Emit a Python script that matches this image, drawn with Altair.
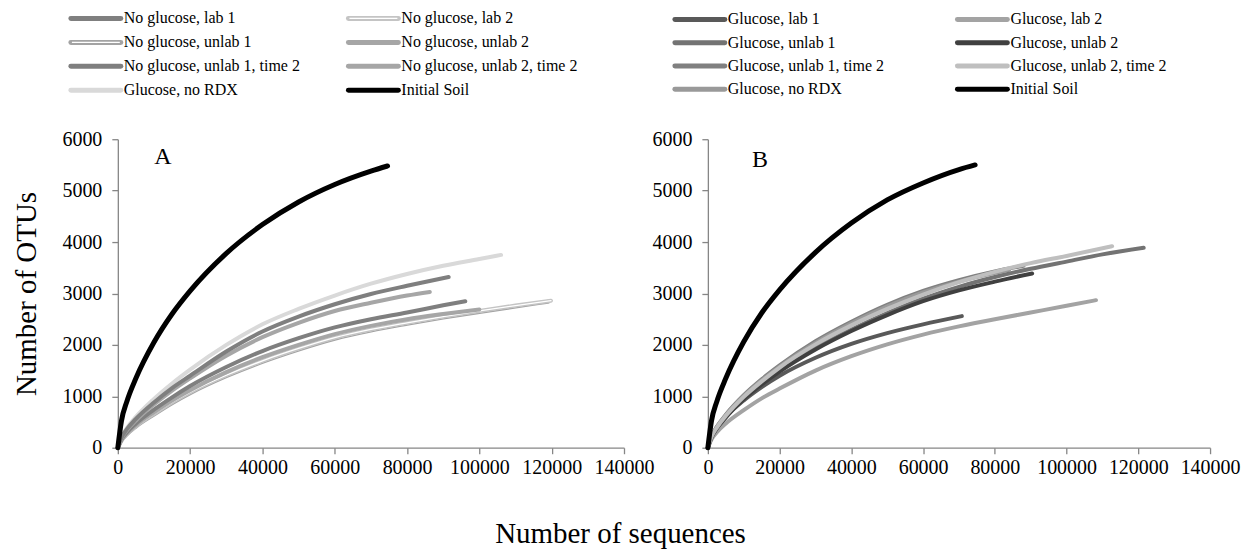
import altair as alt
import pandas as pd

FONT = "Liberation Serif"

# ---------------- Panel A (no glucose) ----------------
A_NAMES = ["No glucose, lab 1", "No glucose, lab 2", "No glucose, unlab 1", "No glucose, unlab 2",
           "No glucose, unlab 1, time 2", "No glucose, unlab 2, time 2", "Glucose, no RDX", "Initial Soil"]
A_COLORS = ["#7f7f7f", "#c4c4c4", "#a3a3a3", "#a6a6a6", "#7f7f7f", "#a6a6a6", "#d9d9d9", "#000000"]
A_DOUBLE = [False, True, True, False, False, False, False, False]
A_X = [
    [0, 1000, 2500, 5000, 10000, 15000, 20000, 30000, 40000, 50000, 60000, 70000, 80000, 91500],
    [0, 1000, 2500, 5000, 10000, 15000, 20000, 30000, 40000, 50000, 60000, 70000, 80000, 90000, 100000, 110000, 119800],
    [0, 1000, 2500, 5000, 10000, 15000, 20000, 30000, 40000, 50000, 60000, 70000, 80000, 90000, 100000, 110000, 119000],
    [0, 1000, 2500, 5000, 10000, 15000, 20000, 30000, 40000, 50000, 60000, 70000, 80000, 86300],
    [0, 1000, 2500, 5000, 10000, 15000, 20000, 30000, 40000, 50000, 60000, 70000, 80000, 90000, 96100],
    [0, 1000, 2500, 5000, 10000, 15000, 20000, 30000, 40000, 50000, 60000, 70000, 80000, 90000, 100000],
    [0, 1000, 2500, 5000, 10000, 15000, 20000, 30000, 40000, 50000, 60000, 70000, 80000, 90000, 100000, 106000],
    [0, 1000, 2500, 5000, 10000, 15000, 20000, 30000, 40000, 50000, 60000, 70000, 74600],
]
A_Y = [
    [0, 190, 360, 560, 880, 1160, 1400, 1870, 2260, 2550, 2790, 2990, 3150, 3320],
    [0, 140, 265, 420, 660, 885, 1080, 1410, 1690, 1930, 2140, 2300, 2430, 2550, 2660, 2765, 2860],
    [0, 135, 258, 410, 645, 865, 1060, 1390, 1670, 1910, 2120, 2280, 2410, 2530, 2640, 2745, 2840],
    [0, 180, 340, 530, 840, 1110, 1350, 1790, 2150, 2430, 2660, 2820, 2960, 3030],
    [0, 160, 300, 470, 740, 980, 1200, 1570, 1880, 2130, 2340, 2500, 2630, 2770, 2850],
    [0, 150, 280, 440, 690, 920, 1120, 1470, 1760, 2000, 2210, 2370, 2500, 2600, 2690],
    [0, 200, 380, 600, 950, 1250, 1520, 2000, 2400, 2700, 2960, 3190, 3380, 3540, 3670, 3750],
    [0, 520, 900, 1350, 2050, 2600, 3050, 3780, 4340, 4780, 5120, 5380, 5480],
]
A_DRAW = [2, 1, 5, 4, 3, 6, 0, 7]

# ---------------- Panel B (glucose) ----------------
B_NAMES = ["Glucose, lab 1", "Glucose, lab 2", "Glucose, unlab 1", "Glucose, unlab 2",
           "Glucose, unlab 1, time 2", "Glucose, unlab 2, time 2", "Glucose, no RDX", "Initial Soil"]
B_COLORS = ["#595959", "#a3a3a3", "#737373", "#404040", "#808080", "#bfbfbf", "#999999", "#000000"]
B_DOUBLE = [False] * 8
B_X = [
    [0, 1000, 2500, 5000, 10000, 15000, 20000, 30000, 40000, 50000, 60000, 70800],
    [0, 1000, 2500, 5000, 10000, 15000, 20000, 30000, 40000, 50000, 60000, 70000, 80000, 90000, 100000, 108200],
    [0, 1000, 2500, 5000, 10000, 15000, 20000, 30000, 40000, 50000, 60000, 70000, 80000, 90000, 100000, 110000, 121500],
    [0, 1000, 2500, 5000, 10000, 15000, 20000, 30000, 40000, 50000, 60000, 70000, 80000, 90400],
    [0, 1000, 2500, 5000, 10000, 15000, 20000, 30000, 40000, 50000, 60000, 70000, 80000, 88000],
    [0, 1000, 2500, 5000, 10000, 15000, 20000, 30000, 40000, 50000, 60000, 70000, 80000, 90000, 100000, 112700],
    [0, 1000, 2500, 5000, 10000, 15000, 20000, 30000, 40000, 50000, 60000, 70000, 80000, 84000],
    [0, 1000, 2500, 5000, 10000, 15000, 20000, 30000, 40000, 50000, 60000, 70000, 74500],
]
B_Y = [
    [0, 210, 390, 600, 920, 1180, 1400, 1750, 2020, 2230, 2400, 2560],
    [0, 160, 300, 470, 730, 960, 1150, 1500, 1780, 2010, 2200, 2360, 2500, 2630, 2760, 2870],
    [0, 200, 380, 600, 960, 1250, 1500, 1940, 2300, 2620, 2900, 3130, 3320, 3480, 3620, 3760, 3890],
    [0, 200, 375, 590, 945, 1230, 1480, 1910, 2270, 2580, 2850, 3060, 3230, 3390],
    [0, 215, 405, 640, 1020, 1330, 1600, 2070, 2450, 2780, 3050, 3260, 3430, 3540],
    [0, 208, 392, 620, 990, 1290, 1560, 2010, 2380, 2700, 2980, 3220, 3420, 3590, 3730, 3920],
    [0, 212, 400, 630, 1005, 1310, 1580, 2040, 2420, 2750, 3020, 3230, 3400, 3460],
    [0, 520, 900, 1350, 2060, 2620, 3070, 3800, 4370, 4820, 5150, 5410, 5500],
]
B_DRAW = [1, 0, 4, 6, 2, 3, 5, 7]

TAGS = ["A", "B"]
TAG_X = [12500, 14500]
TAG_Y = [5660, 5600]

X_TICKS = [0, 20000, 40000, 60000, 80000, 100000, 120000, 140000]
Y_TICKS = [0, 1000, 2000, 3000, 4000, 5000, 6000]

SYM_LEN = 50


def panel(names, colors, double, xs, ys, draw, tag, tx, ty, width, height, ytitle, leg_cols, leg_rows):
    rows = []
    for i, n in enumerate(names):
        for xv, yv in zip(xs[i], ys[i]):
            rows.append({"s": n, "x": xv, "y": yv})
    df = pd.DataFrame(rows)

    xenc = alt.X("x:Q", scale=alt.Scale(domain=[0, 140000], nice=False),
                 axis=alt.Axis(values=X_TICKS, format="d", title=None))
    yenc = alt.Y("y:Q", scale=alt.Scale(domain=[0, 6000], nice=False),
                 axis=alt.Axis(values=Y_TICKS, format="d", title=ytitle if ytitle else None))

    layers = []
    for i in draw:
        n = names[i]
        w = 5 if n == "Initial Soil" else 4
        layers.append(
            alt.Chart(df).transform_filter(alt.datum.s == n)
            .mark_line(color=colors[i], strokeWidth=w, strokeCap="round", strokeJoin="round",
                       interpolate="monotone")
            .encode(x=xenc, y=yenc)
        )
        if double[i]:
            layers.append(
                alt.Chart(df).transform_filter(alt.datum.s == n)
                .mark_line(color="white", strokeWidth=1.3, strokeCap="round", strokeJoin="round",
                           interpolate="monotone")
                .encode(x=xenc, y=yenc)
            )
    tag_df = pd.DataFrame({"x": [tx], "y": [ty], "t": [tag]})
    layers.append(
        alt.Chart(tag_df).mark_text(font=FONT, fontSize=24, color="black")
        .encode(x=xenc, y=yenc, text="t:N")
    )
    main = alt.layer(*layers)

    leg_df = pd.DataFrame({
        "name": names,
        "col": [i % 2 for i in range(len(names))],
        "row": [i // 2 for i in range(len(names))],
        "dbl": double,
    })
    lx = alt.X("col:Q", scale=alt.Scale(domain=[0, 1], range=leg_cols), axis=None)
    ly = alt.Y("row:Q", scale=alt.Scale(domain=[0, 3], range=leg_rows), axis=None)
    cscale = alt.Scale(domain=names, range=colors)
    sym = alt.Chart(leg_df).mark_point(shape="stroke", size=SYM_LEN * SYM_LEN, strokeWidth=5,
                                       filled=False, opacity=1, strokeCap="round").encode(
        x=lx, y=ly, color=alt.Color("name:N", scale=cscale, legend=None))
    sym2 = alt.Chart(leg_df).transform_filter(alt.datum.dbl == True).mark_point(
        shape="stroke", size=(SYM_LEN - 2) ** 2, strokeWidth=1.4, filled=False, opacity=1,
        color="white").encode(x=lx, y=ly)
    txt = alt.Chart(leg_df).mark_text(align="left", baseline="middle", dx=SYM_LEN / 2 + 3,
                                      font=FONT, fontSize=16, color="black").encode(
        x=lx, y=ly, text="name:N")
    legend = alt.layer(sym, sym2, txt)

    return alt.layer(main, legend).resolve_scale(
        x="independent", y="independent", color="independent").properties(
        width=width, height=height)


pA = panel(A_NAMES, A_COLORS, A_DOUBLE, A_X, A_Y, A_DRAW, TAGS[0], TAG_X[0], TAG_Y[0],
           507, 309, "Number of OTUs", [-22, 256], [-121, -49])
pB = panel(B_NAMES, B_COLORS, B_DOUBLE, B_X, B_Y, B_DRAW, TAGS[1], TAG_X[1], TAG_Y[1],
           503, 309, "", [-8, 275], [-120, -50])

chart = alt.hconcat(pA, pB, spacing=84, bounds="flush").resolve_scale(color="independent").properties(
    title=alt.TitleParams("Number of sequences", orient="bottom", anchor="middle", font=FONT,
                          fontSize=29, fontWeight="normal", color="black", offset=42, dx=-6),
    padding={"left": 5, "top": 0, "right": 5, "bottom": 0},
).configure_view(stroke=None).configure_axis(
    grid=False, domainColor="#868686", tickColor="#868686", tickSize=6, domainWidth=1.3,
    tickWidth=1.3, labelFont=FONT, labelFontSize=20, labelColor="black", labelPadding=4,
    titleFont=FONT, titleFontSize=29, titleFontWeight="normal", titleColor="black",
    labelFlush=False, labelOverlap=False,
).configure_axisY(labelPadding=10, titlePadding=20)

chart.save("out.html", embed_options={"renderer": "svg", "actions": False})
